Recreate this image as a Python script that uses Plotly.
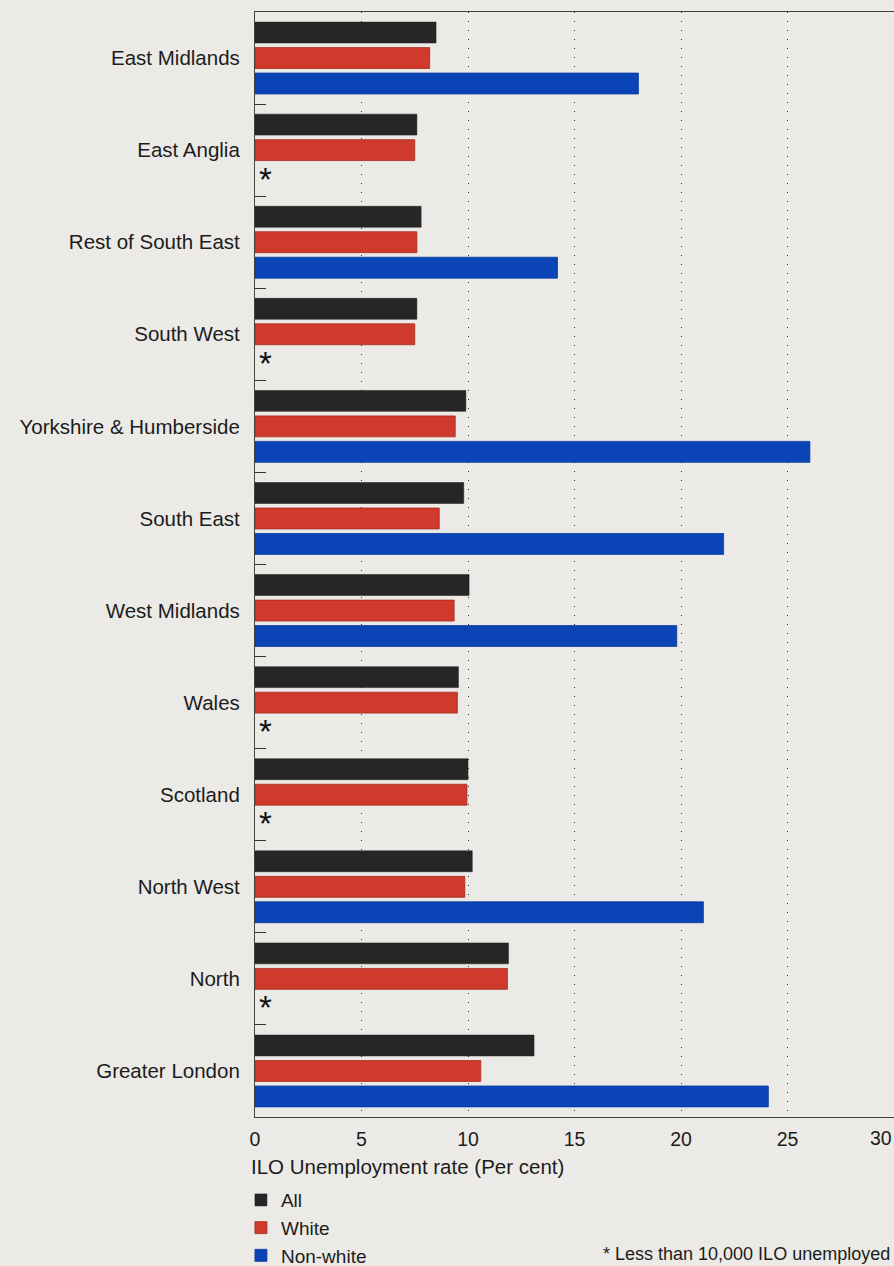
import plotly.graph_objects as go

regions = ["East Midlands", "East Anglia", "Rest of South East", "South West",
           "Yorkshire & Humberside", "South East", "West Midlands", "Wales",
           "Scotland", "North West", "North", "Greater London"]
all_rate = [8.5, 7.6, 7.8, 7.6, 9.9, 9.8, 10.05, 9.55, 10.0, 10.2, 11.9, 13.1]
white_rate = [8.2, 7.5, 7.6, 7.5, 9.4, 8.65, 9.35, 9.5, 9.95, 9.85, 11.85, 10.6]
nonwhite_rate = [18.0, None, 14.2, None, 26.05, 22.0, 19.8, None, None, 21.05, None, 24.1]
x_ticks = [0, 5, 10, 15, 20, 25, 30]

FONT = "Liberation Sans, Arial, Helvetica, sans-serif"
TXT = "#1c1c1c"
BG = "#ebeae6"

fig = go.Figure()
fig.add_trace(go.Bar(y=regions, x=all_rate, name="All", orientation="h",
                     marker=dict(color="#262626", line=dict(color="#1a1a1a", width=0.5))))
fig.add_trace(go.Bar(y=regions, x=white_rate, name="White", orientation="h",
                     marker=dict(color="#cf3a2c", line=dict(color="#a82a20", width=0.8))))
fig.add_trace(go.Bar(y=regions, x=nonwhite_rate, name="Non-white", orientation="h",
                     marker=dict(color="#0a44b6", line=dict(color="#083a9c", width=0.8))))

# asterisks for missing non-white values
for r, v in zip(regions, nonwhite_rate):
    if v is None:
        fig.add_annotation(x=0, y=r, xref="x", yref="y", text="*", showarrow=False,
                           xanchor="left", yanchor="middle", xshift=2, yshift=-29,
                           font=dict(family=FONT, size=33, color="#111111"))

# last tick label, kept inside page
fig.add_annotation(x=30, y=0, xref="x", yref="paper", text="30", showarrow=False,
                   xanchor="right", yanchor="top", yshift=-8,
                   font=dict(family=FONT, size=19.5, color=TXT))

fig.add_annotation(x=0, y=0, xref="paper", yref="paper", text="ILO Unemployment rate (Per cent)",
                   showarrow=False, xanchor="left", yanchor="top", xshift=-6, yshift=-36,
                   font=dict(family=FONT, size=20.5, color=TXT))
fig.add_annotation(x=1, y=0, xref="paper", yref="paper", text="* Less than 10,000 ILO unemployed",
                   showarrow=False, xanchor="right", yanchor="top", xshift=-2, yshift=-125,
                   font=dict(family=FONT, size=18, color=TXT))

fig.update_layout(
    width=894, height=1266,
    margin=dict(l=255, r=0, t=12, b=149, autoexpand=False),
    paper_bgcolor=BG, plot_bgcolor=BG,
    barmode="group", bargap=0.17, bargroupgap=0.18,
    font=dict(family=FONT, size=20, color=TXT),
    showlegend=True,
    legend=dict(x=-0.022, y=-0.058, xanchor="left", yanchor="top", orientation="v",
                bgcolor="rgba(0,0,0,0)", font=dict(family=FONT, size=19, color=TXT),
                itemclick=False, tracegroupgap=0),
    xaxis=dict(range=[0, 30], tickvals=x_ticks[:-1], ticktext=[str(t) for t in x_ticks[:-1]],
               showgrid=True, gridcolor="#333333", griddash="1px,8px", gridwidth=1.2,
               showline=True, linecolor="#444444", linewidth=1.2, mirror=True,
               ticks="", zeroline=False, tickfont=dict(family=FONT, size=19.5, color=TXT),
               ticklabelstandoff=4, fixedrange=True),
    yaxis=dict(categoryorder="array", categoryarray=regions, autorange="reversed",
               showline=True, linecolor="#444444", linewidth=1.2,
               ticks="inside", ticklen=11, tickcolor="#333333", tickwidth=1.2,
               tickson="boundaries", showgrid=False,
               tickfont=dict(family=FONT, size=20.5, color=TXT), ticklabelstandoff=10,
               fixedrange=True),
)

fig.write_html("out.html", config={"displayModeBar": False},
               post_script="document.body.style.margin='0';document.body.style.background='#ebeae6';")
